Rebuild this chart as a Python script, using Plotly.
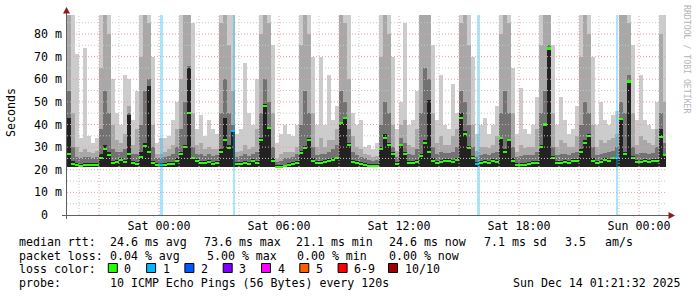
import datetime as dt
import plotly.graph_objects as go

# ---------------- data (12-minute consolidation bins) ----------------
T0 = dt.datetime(2025, 12, 12, 19, 24)
STEP_MIN = 12
FLOOR = 21.2  # ms, lowest ping (bottom of the smoke)

med = [27, 22.5, 22, 21.8, 22, 22.3, 22, 22.2, 25, 29,
       26.5, 23, 23.5, 24.5, 23.5, 27, 23, 22.5, 25.5, 30.5,
       28, 23, 22, 22, 22.3, 22.5, 22.5, 24, 27, 30,
       45, 25, 24, 23, 23, 23.5, 22.5, 23, 28, 33,
       29.5, 37, 22.5, 22.5, 23, 22.5, 24, 23, 33, 48,
       38.5, 24, 21.4, 21.4, 21.5, 22, 22.5, 23, 27.5, 29.5,
       33, 24, 23, 23, 23.5, 24, 24.5, 25, 40.5, 43,
       31, 23.5, 23, 22.5, 22, 21.8, 21.8, 21.8, 29, 34,
       31, 27, 22.5, 31, 27, 23, 23, 23.5, 26, 32,
       28, 24, 23, 23.5, 24, 24, 23.5, 24.5, 43, 36,
       29.5, 25, 22.5, 23, 23.5, 23, 24, 23.5, 34, 28,
       33, 24, 22, 22.3, 22.3, 22.5, 23, 23, 30, 40,
       73.6, 25, 23, 23, 23.5, 23, 24, 24, 28, 32,
       35, 24, 23, 23.5, 24.5, 24, 25, 25, 42.5, 27,
       59, 25, 23.5, 23.5, 24, 23.5, 24, 24, 34.5, 26.5]

core = [43, 24, 22.8, 22.6, 22.8, 23, 22.8, 23, 27, 31,
        28, 24, 24.2, 25.2, 24.2, 44, 23.8, 23.3, 28, 32,
        57, 24, 22.8, 22.8, 23, 23.3, 23.3, 25, 28, 31,
        65, 25, 24.8, 23.8, 23.8, 24.2, 23.3, 23.8, 29, 43,
        31, 37.5, 23.3, 23.3, 23.8, 23.3, 24.8, 23.8, 34, 49,
        39, 25, 22, 22, 22.3, 22.8, 23.3, 23.8, 28.5, 30.5,
        34, 25, 23.8, 23.8, 24.3, 24.8, 25.3, 25.8, 41, 43.5,
        32, 24.3, 23.8, 23.3, 22.8, 22.5, 22.5, 22.5, 30, 36,
        32, 28, 23.3, 31.5, 28, 23.8, 23.8, 24.3, 27, 33,
        51, 25, 23.8, 24.3, 24.8, 24.8, 24.3, 25.3, 45, 37,
        30.5, 26, 23.3, 23.8, 24.3, 23.8, 24.8, 24.3, 34.5, 29,
        33.5, 25, 22.8, 23.1, 23.1, 23.3, 23.8, 23.8, 31, 40.5,
        74, 26, 23.8, 23.8, 24.3, 23.8, 24.8, 24.8, 29, 33,
        36, 25, 23.8, 24.3, 25.3, 24.8, 25.8, 25.8, 43, 28,
        59.5, 26, 24.3, 24.3, 24.8, 24.3, 24.8, 24.8, 38, 27]

mid = [55, 30, 25.5, 25, 25.5, 25.5, 25, 25.5, 38, 55,
       45, 29, 28, 28, 29, 45, 27, 27, 40, 55,
       60, 30, 25, 25, 25.5, 26, 27, 30, 38, 50,
       66, 30, 27, 27, 26, 27, 26, 26.5, 45, 60,
       45, 40, 25.5, 26, 27, 26, 27, 28, 45, 60,
       50, 30, 23.5, 24, 25, 25, 25.5, 27, 40, 55,
       45, 30, 26.5, 27, 27, 28, 29, 31, 55, 50,
       38, 28, 26.5, 25.5, 25, 24.5, 24, 24.5, 40, 50,
       45, 30, 25.5, 34, 32, 27, 26.5, 29, 45, 65,
       60, 30, 27, 28, 27.5, 27.5, 28, 30, 55, 50,
       40, 30, 25.5, 26.5, 27, 26.5, 27.5, 28, 45, 55,
       45, 30, 25.5, 26, 26.5, 26.5, 26.5, 28, 45, 55,
       75, 30, 26.5, 27, 27, 26.5, 27.5, 28, 40, 50,
       45, 30, 26.5, 27, 27.5, 28, 28.5, 30, 50, 45,
       62, 30, 27, 27.5, 27.5, 27, 27.5, 30, 45, 32]

hi = [100, 45, 30, 28, 29, 28, 27.5, 28.5, 65, 100,
      80, 40, 33, 32, 36, 48, 31, 38, 70, 100,
      85, 40, 27, 27, 28, 29, 31, 38, 60, 100,
      90, 45, 31, 32, 29, 30, 29, 29, 85, 100,
      75, 55, 28, 28.5, 31, 29, 30, 38, 80, 100,
      85, 45, 25, 27, 28, 28, 28, 30, 75, 100,
      80, 45, 30, 34, 30, 33, 33, 38, 100, 85,
      60, 35, 30, 29, 27, 26.5, 25.5, 26, 70, 100,
      80, 40, 28.5, 40, 42, 31, 30, 38, 90, 100,
      90, 45, 32, 35, 31, 31, 35, 38, 85, 100,
      75, 40, 28.5, 30, 30, 29.5, 31, 35, 80, 100,
      85, 45, 28, 31, 29.5, 30, 30, 38, 75, 100,
      100, 45, 30, 33, 32, 30, 30, 35, 70, 100,
      80, 40, 30, 33, 32, 33, 34, 36, 90, 100,
      85, 45, 31, 35, 33, 32, 31, 38, 80, 50]

mx = [100, 100, 71, 34, 74, 35, 32, 34, 100, 100,
      100, 60, 45, 40, 62, 60, 42, 55, 100, 100,
      100, 70, 32, 34, 34, 35, 42, 50, 100, 100,
      100, 85, 38, 44, 35, 42, 38, 36, 100, 100,
      100, 100, 36, 38, 67, 45, 40, 60, 100, 100,
      100, 75, 32, 36, 40, 36, 35, 40, 100, 100,
      100, 70, 40, 70, 40, 62, 42, 48, 100, 100,
      100, 45, 40, 42, 30, 31, 29, 32, 100, 100,
      100, 70, 38, 50, 85, 40, 42, 55, 100, 100,
      100, 75, 42, 62, 40, 38, 58, 45, 100, 100,
      100, 70, 36, 40, 43, 36, 40, 48, 100, 100,
      100, 65, 36, 56, 38, 36, 40, 52, 100, 100,
      100, 75, 40, 52, 42, 36, 38, 48, 100, 100,
      100, 70, 40, 50, 42, 40, 44, 46, 100, 100,
      100, 75, 42, 62, 42, 40, 38, 50, 100, 100]

# packet loss events (time, duration in minutes, lost pings out of 10)
loss_time = [dt.datetime(2025, 12, 13, 0, 6), dt.datetime(2025, 12, 13, 3, 45),
             dt.datetime(2025, 12, 13, 15, 57), dt.datetime(2025, 12, 13, 22, 54)]
loss_dur = [9, 3, 9, 3]
loss_cnt = [1, 1, 1, 1]

loss_labels = ["0", "1", "2", "3", "4", "5", "6-9", "10/10"]
loss_colors = ["#26ff00", "#00b8ff", "#0059ff", "#7e00ff", "#ff00ff", "#ff5e00", "#ff0000", "#a00000"]

y_tickvals = [0, 10, 20, 30, 40, 50, 60, 70, 80]
y_ticktext = ["0\u00a0\u00a0", "10 m", "20 m", "30 m", "40 m", "50 m", "60 m", "70 m", "80 m"]
x_tickvals = [dt.datetime(2025, 12, 12, 21), dt.datetime(2025, 12, 13, 0), dt.datetime(2025, 12, 13, 3),
              dt.datetime(2025, 12, 13, 6), dt.datetime(2025, 12, 13, 9), dt.datetime(2025, 12, 13, 12),
              dt.datetime(2025, 12, 13, 15), dt.datetime(2025, 12, 13, 18), dt.datetime(2025, 12, 13, 21),
              dt.datetime(2025, 12, 14, 0)]
x_ticktext = ["", "Sat 00:00", "", "Sat 06:00", "", "Sat 12:00", "", "Sat 18:00", "", "Sun 00:00"]

stats_rtt = [("median rtt:", 16.5), ("24.6 ms avg", 108), ("73.6 ms max", 201.5), ("21.1 ms min", 293.5),
             ("24.6 ms now", 386.5), ("7.1 ms sd", 482), ("3.5", 563), ("am/s", 603)]
stats_loss = [("packet loss:", 16.5), ("0.04 % avg", 108), ("5.00 % max", 205), ("0.00 % min", 295),
              ("0.00 % now", 386.5)]
probe_text = "10 ICMP Echo Pings (56 Bytes) every 120s"
stamp_text = "Sun Dec 14 01:21:32 2025"

# ---------------- geometry ----------------
W, H = 697, 297
PL, PR, PT, PB = 67, 666, 15, 215
PX_PER_H = 20.0
PX_PER_MS = 2.2625
YMAX = (PB - PT) / PX_PER_MS
X_END = T0 + dt.timedelta(hours=(PR - PL) / PX_PER_H)
FONT = "DejaVu Sans Mono"
FS = 11.6


def pxx(x):
    return (x - PL) / (PR - PL)


def pxy(y):
    return (PB - y) / (PB - PT)


n = len(med)
step = dt.timedelta(minutes=STEP_MIN)
xs = [T0 + step * (i + 0.5) for i in range(n)]
bw = STEP_MIN * 60000

fig = go.Figure()
smoke = [(mx, "#cccccc"), (hi, "#a8a8a8"), (mid, "#727272"), (core, "#222222")]
for vals, col in smoke:
    fig.add_trace(go.Bar(x=xs, y=[v - FLOOR for v in vals], base=FLOOR, width=bw,
                         marker=dict(color=col, line=dict(width=0)), hoverinfo="skip"))

# loss bands
fig.add_trace(go.Bar(x=loss_time, y=[500] * len(loss_time), base=0,
                     width=[d * 60000 for d in loss_dur],
                     marker=dict(color=[loss_colors[c] for c in loss_cnt], opacity=0.35, line=dict(width=0)),
                     hoverinfo="skip"))

# median dashes coloured by loss
med_col = []
for i in range(n):
    c = loss_colors[0]
    for t, k in zip(loss_time, loss_cnt):
        if xs[i] - step / 2 <= t < xs[i] + step / 2:
            c = loss_colors[k]
    med_col.append(c)
fig.add_trace(go.Bar(x=xs, y=[0.9] * n, base=[m - 0.45 for m in med], width=bw,
                     marker=dict(color=med_col, line=dict(width=0)), hoverinfo="skip"))

shapes = []
# grid (drawn above the smoke, like rrdtool)
h = dt.datetime(2025, 12, 12, 20)
while h <= X_END:
    red = h.hour % 3 == 0
    shapes.append(dict(type="line", xref="x", yref="paper", x0=h, x1=h, y0=0, y1=1, layer="above",
                       line=dict(color="#e6a0a0" if red else "#c8c8c8", width=1, dash="1px,2px")))
    h += dt.timedelta(hours=1)
for v in range(5, 90, 5):
    if v > YMAX:
        break
    red = v % 10 == 0
    shapes.append(dict(type="line", xref="paper", yref="y", x0=0, x1=1, y0=v, y1=v, layer="above",
                       line=dict(color="#e6a0a0" if red else "#c8c8c8", width=1, dash="1px,2px")))

# axes and arrows
shapes.append(dict(type="line", xref="paper", yref="paper", x0=pxx(62), x1=pxx(670), y0=pxy(215.5), y1=pxy(215.5),
                   line=dict(color="#606060", width=1), layer="above"))
shapes.append(dict(type="line", xref="paper", yref="paper", x0=pxx(66.5), x1=pxx(66.5), y0=pxy(219), y1=pxy(11),
                   line=dict(color="#606060", width=1), layer="above"))
shapes.append(dict(type="path", xref="paper", yref="paper",
                   path=f"M {pxx(66.5)},{pxy(7)} L {pxx(63)},{pxy(13.5)} L {pxx(70)},{pxy(13.5)} Z",
                   fillcolor="#8e1a1a", line=dict(width=0), layer="above"))
shapes.append(dict(type="path", xref="paper", yref="paper",
                   path=f"M {pxx(675)},{pxy(215.5)} L {pxx(668.5)},{pxy(212)} L {pxx(668.5)},{pxy(219)} Z",
                   fillcolor="#8e1a1a", line=dict(width=0), layer="above"))

annotations = []


def txt(s, x, y, anchor="left", size=FS, color="#000000", angle=0):
    annotations.append(dict(text=s, x=pxx(x), y=pxy(y), xref="paper", yref="paper", showarrow=False,
                            xanchor=anchor, yanchor="middle", textangle=angle,
                            font=dict(family=FONT, size=size, color=color)))


for s, x in stats_rtt:
    txt(s, x, 241.5)
for s, x in stats_loss:
    txt(s, x, 255.5)
txt("loss color:", 16.5, 268.5)
box_x = [108.3, 146.6, 184.9, 223.2, 261.5, 299.8, 338.1, 388.5]
for lab, col, bx in zip(loss_labels, loss_colors, box_x):
    shapes.append(dict(type="rect", xref="paper", yref="paper", x0=pxx(bx), x1=pxx(bx + 9),
                       y0=pxy(272.5), y1=pxy(263.5), fillcolor=col, line=dict(color="#000000", width=1)))
    txt(lab, bx + 14, 268.5)
txt("probe:", 16.5, 283)
txt(probe_text, 108, 283)
txt(stamp_text, 683, 283, anchor="right")
txt("Seconds", 11, 113, anchor="center", angle=-90)
txt("RRDTOOL / TOBI OETIKER", 687, 59, anchor="center", size=8.2, color="#b4b4b4", angle=90)

fig.update_layout(
    width=W, height=H, margin=dict(l=PL, r=W - PR, t=PT, b=H - PB, pad=0),
    paper_bgcolor="white", plot_bgcolor="white", barmode="overlay", bargap=0,
    showlegend=False, font=dict(family=FONT, size=FS, color="#000000"),
    shapes=shapes, annotations=annotations,
    xaxis=dict(type="date", range=[T0, X_END], tickvals=x_tickvals, ticktext=x_ticktext,
               showgrid=False, zeroline=False, showline=False, ticks="",
               tickfont=dict(family=FONT, size=FS, color="#000000"), ticklabelstandoff=2, fixedrange=True),
    yaxis=dict(range=[0, YMAX], tickvals=y_tickvals, ticktext=y_ticktext, showgrid=False, zeroline=False,
               showline=False, ticks="", tickfont=dict(family=FONT, size=FS, color="#000000"),
               ticklabelstandoff=4, fixedrange=True),
)

fig.write_html("out.html")
